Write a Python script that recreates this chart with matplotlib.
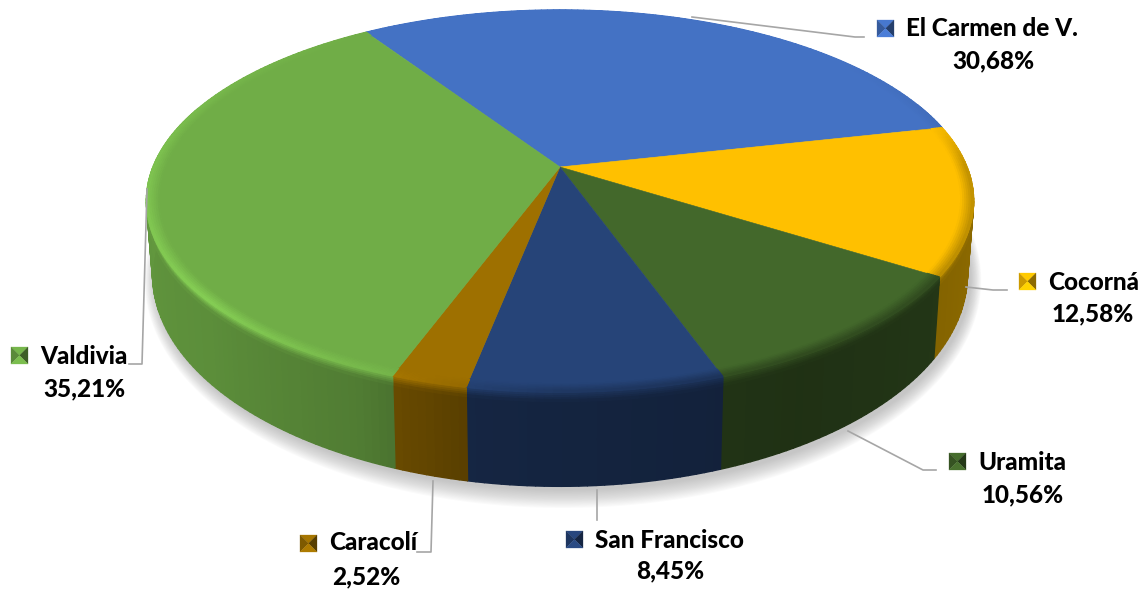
import numpy as np
import matplotlib
matplotlib.use("Agg")
import matplotlib.pyplot as plt
from matplotlib.collections import PolyCollection

plt.rcParams['font.family'] = ['Lato', 'DejaVu Sans']

# slices, clockwise from the first one
labels = ["El Carmen de V.", "Cocorná", "Uramita", "San Francisco", "Caracolí", "Valdivia"]
values = [30.68, 12.58, 10.56, 8.45, 2.52, 35.21]
colors = ["#4472C4", "#FFC000", "#43682B", "#264478", "#9E7000", "#70AD47"]

# label layout in pixels: marker left, marker top, text left, text y, percent centre x, percent y
label_pos = [
    (877, 20, 906, 29, 993, 61),
    (1019, 273, 1048, 282, 1093, 314),
    (949, 453, 978, 462, 1023, 495),
    (566, 531, 595, 540, 670, 571),
    (300, 535, 329, 543, 366, 577),
    (11, 347, 40, 356, 84, 389),
]
leaders = [
    ([692, 855, 864], [17, 37, 37]),
    ([966, 993, 1007], [287, 290, 290]),
    ([848, 923, 936], [431, 470, 470]),
    ([597, 597], [490, 520]),
    ([433, 431, 417], [481, 552, 552]),
    ([147, 142, 129], [189, 364, 364]),
]

# pie geometry (pixels), the circle is seen in perspective
cx, cy = 560, 167
a, b, k = 407, 185, 0.178
start_angle = 123.2
side_drop = 70
side_xscale = 0.985
side_yscale = 1.11
rim_width = 0.03

# brightness of the side and the rim going round the pie
shade_ang = [0, 20, 160, 180, 220, 245, 260, 300, 340, 360]
shade_val = [0.55, 0.55, 0.9, 0.88, 0.82, 0.72, 0.55, 0.47, 0.54, 0.55]
rim_ang = [0, 12, 40, 125, 150, 180, 220, 250, 270, 300, 360]
rim_val = [0.75, 0.95, 1.0, 1.0, 1.05, 1.13, 1.2, 1.05, 0.8, 0.7, 0.75]


def project(theta, r=1.0, t=0.0):
    # t = 0 is the top face, t = 1 the bottom edge of the side
    x = r * np.cos(np.radians(theta))
    y = r * np.sin(np.radians(theta))
    den = 1 + k * y
    xs = 1 + (side_xscale - 1) * t
    ys = 1 + (side_yscale - 1) * t
    return cx + a * xs * x / den, cy + side_drop * t - b * ys * y / den


def to_rgb(c):
    return np.array(matplotlib.colors.to_rgb(c))


def band(ax, th, r0, t0, r1, t1, cols):
    # quads between two rings
    polys = []
    for i in range(len(th) - 1):
        x0, y0 = project(th[i], r0, t0)
        x1, y1 = project(th[i + 1], r0, t0)
        x2, y2 = project(th[i + 1], r1, t1)
        x3, y3 = project(th[i], r1, t1)
        polys.append([(x0, y0), (x1, y1), (x2, y2), (x3, y3)])
    cols = np.clip(cols, 0, 1)
    ax.add_collection(PolyCollection(polys, facecolors=cols, edgecolors=cols, linewidths=1.0))


fig = plt.figure(figsize=(11.43, 5.90), dpi=100)
ax = fig.add_axes([0, 0, 1, 1])
ax.set_xlim(0, 1143)
ax.set_ylim(590, 0)
ax.axis('off')

# soft shadow under the pie
ring = np.linspace(0, 360, 361)
rx, ry = project(ring, 1.0, 1.0)
for grow in np.linspace(24, 1, 16):
    sx = cx + 3 + (rx - cx) * (1 + grow / 900)
    sy = cy + 70 + (ry - cy - 70) * (1 + grow / 330) + 3
    ax.fill(sx, sy, color='#8c8c8c', alpha=0.035, lw=0)

for lx, ly in leaders:
    ax.plot(lx, ly, color='#a6a6a6', lw=1.2, solid_joinstyle='round')

edges = start_angle - np.concatenate([[0], np.cumsum(values)]) * 3.6

# sides first, the top covers the back part
for i in range(len(values)):
    th = np.linspace(edges[i], edges[i + 1], max(int(edges[i] - edges[i + 1]) + 1, 2))
    mid = (th[:-1] + th[1:]) / 2
    keep = np.sin(np.radians(mid)) < 0.35
    if keep.sum() < 1:
        continue
    th_keep = th[np.concatenate([keep, [keep[-1]]])]
    mid = (th_keep[:-1] + th_keep[1:]) / 2
    base = to_rgb(colors[i])
    side = np.interp(mid % 360, shade_ang, shade_val)[:, None] * base
    rim = np.interp(mid % 360, rim_ang, rim_val)[:, None] * base
    band(ax, th_keep, 1.0, 0.1, 1.0, 0.995, side)
    steps = np.linspace(0, 0.1, 6)
    for j in range(5):
        f = (j + 0.5) / 5
        band(ax, th_keep, 1.0, steps[j], 1.0, steps[j + 1], rim * (1 - f) + side * f)

# top face
for i in range(len(values)):
    th = np.linspace(edges[i], edges[i + 1], max(int((edges[i] - edges[i + 1]) * 2), 2))
    x, y = project(th, 1.0)
    ax.fill(np.r_[cx, x], np.r_[cy, y], color=colors[i], lw=0.4)

# bevel round the edge of the top face
for i in range(len(values)):
    th = np.linspace(edges[i], edges[i + 1], max(int(edges[i] - edges[i + 1]) + 1, 2))
    mid = (th[:-1] + th[1:]) / 2
    base = to_rgb(colors[i])
    rim = np.interp(mid % 360, rim_ang, rim_val)[:, None] * base
    rs = np.linspace(1 - rim_width, 1.0, 7)
    for j in range(6):
        f = (j + 0.5) / 6
        band(ax, th, rs[j], 0, rs[j + 1], 0, base * (1 - f) + rim * f)

# markers and labels
for i in range(len(labels)):
    mx, my, tx, ty, px, py = label_pos[i]
    s = 17
    base = to_rgb(colors[i])
    mid_x, mid_y = mx + s / 2, my + s / 2
    tri = [
        ([mx, mx + s, mid_x], [my, my, mid_y], 1.05),
        ([mx, mid_x, mx], [my, mid_y, my + s], 0.8),
        ([mx + s, mid_x, mx + s], [my, mid_y, my + s], 0.55),
        ([mx, mx + s, mid_x], [my + s, my + s, mid_y], 1.1),
    ]
    for tr_x, tr_y, f in tri:
        ax.fill(tr_x, tr_y, color=np.clip(base * f, 0, 1), lw=0.2)
    ax.text(tx, ty, labels[i], fontsize=17.5, fontweight=900, color='black', ha='left', va='center')
    ax.text(px, py, f"{values[i]:.2f}".replace('.', ',') + "%", fontsize=17.5, fontweight=900,
            color='black', ha='center', va='center')

fig.savefig('out.png', dpi=100, facecolor='white')
